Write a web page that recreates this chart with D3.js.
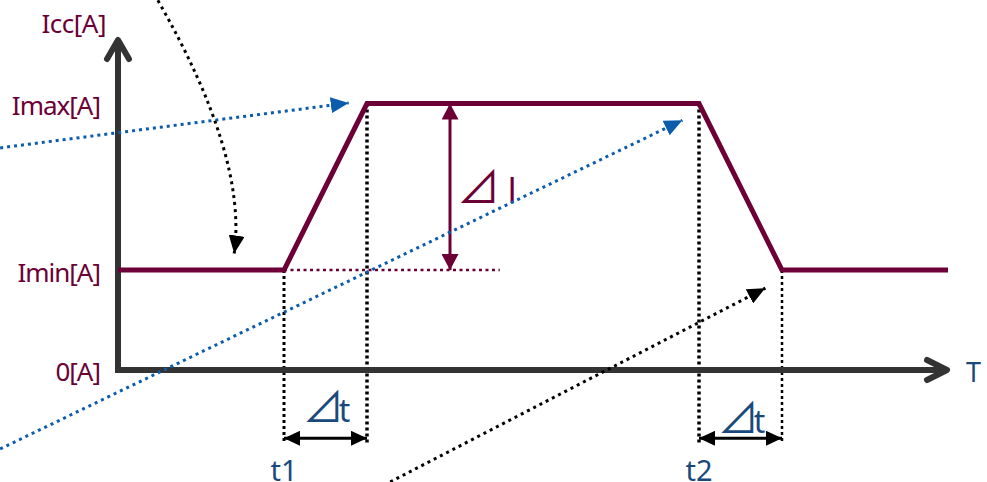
<!DOCTYPE html>
<html>
<head>
<meta charset="utf-8">
<script src="https://cdn.jsdelivr.net/npm/d3@7"></script>
<style>
  html, body { margin: 0; padding: 0; background: #fff; }
  svg { display: block; }
  .lbl { font-family: "Noto Sans", "Open Sans", sans-serif; }
  .delta { font-family: "Noto Sans CJK JP", "Noto Sans", sans-serif; }
  .plain { font-family: "Open Sans", "DejaVu Sans", sans-serif; }
</style>
</head>
<body>
<div id="chart"></div>
<script>
(function () {
  // ---- Data (time units on T, current units on Icc) ----
  const T_MAX = 100, I_MAX = 10;
  const profileT = [0, 20, 30, 70, 80, 100];
  const profileI = [3, 3, 8, 8, 3, 3];
  const yTickValues = [8, 3, 0];
  const yTickLabels = ['Imax[A]', 'Imin[A]', '0[A]'];
  const timeMarks = [20, 70];
  const timeLabels = ['t1', 't2'];
  const deltaT = 10;
  const deltaLabelLift = [11, 0];           // ⊿t labels: first sits higher
  const deltaISpan = [3, 8];                // ⊿I arrow between Imin and Imax
  const deltaIAt = 40;
  const iminGuideEnd = 46;

  // pointer arrows coming from outside the plot: [t0, i0, t1, i1]
  const bluePointers = [[-14.2, 6.67, 27.8, 8.02], [-14.2, -2.37, 68.0, 7.5]];
  const blackPointer = [32.8, -3.36, 78.0, 2.46];
  const blackCurve = [4.8, 11.1, 15.6, 6.4, 14.0, 3.5];  // start, control, end

  // ---- Colors ----
  const MAROON = '#6c0036', BLUE = '#0b5cad', NAVY = '#1a4a7c', AXIS = '#333';

  const W = 987, H = 482;
  const x = d3.scaleLinear().domain([0, T_MAX]).range([118, 948]);
  const y = d3.scaleLinear().domain([0, I_MAX]).range([370, 37]);

  const svg = d3.select('#chart').append('svg')
    .attr('width', W).attr('height', H);

  // ---- Arrow markers ----
  const defs = svg.append('defs');
  function marker(id, len, wid, color) {
    defs.append('marker')
      .attr('id', id)
      .attr('markerUnits', 'userSpaceOnUse')
      .attr('viewBox', `0 ${-wid / 2} ${len} ${wid}`)
      .attr('refX', len).attr('refY', 0)
      .attr('markerWidth', len).attr('markerHeight', wid)
      .attr('orient', 'auto-start-reverse')
      .append('path')
      .attr('d', `M0,${-wid / 2}L${len},0L0,${wid / 2}Z`)
      .attr('fill', color);
  }
  marker('head-blue', 18, 16, BLUE);
  marker('head-black', 18, 16, '#000');
  marker('dbl-black', 16, 15, '#000');
  marker('dbl-maroon', 16, 17, MAROON);

  // ---- Dotted guides ----
  const guides = svg.append('g').attr('fill', 'none');
  guides.append('line')
    .attr('x1', x(profileT[1])).attr('x2', x(iminGuideEnd))
    .attr('y1', y(profileI[1])).attr('y2', y(profileI[1]))
    .attr('stroke', MAROON).attr('stroke-width', 2.5)
    .attr('stroke-dasharray', '3 3.5');

  const vDrops = [[profileT[1], profileI[1], 3], [profileT[2], profileI[2], 3.5],
                  [profileT[3], profileI[3], 3.5], [profileT[4], profileI[4], 2.5]];
  vDrops.forEach(([t, i, w]) => {
    guides.append('line')
      .attr('x1', x(t)).attr('x2', x(t))
      .attr('y1', y(i)).attr('y2', y(-2.2))
      .attr('stroke', '#000').attr('stroke-width', w)
      .attr('stroke-dasharray', '3 3');
  });

  // ---- Axes ----
  const axes = svg.append('g');
  axes.append('path')
    .attr('d', `M${x(0)},${y(I_MAX) + 3}L${x(0)},${y(0)}L${x(T_MAX) - 2},${y(0)}`)
    .attr('fill', 'none').attr('stroke', AXIS).attr('stroke-width', 6)
    .attr('stroke-linejoin', 'miter');
  // chevron heads
  axes.append('path')
    .attr('d', `M${x(0) - 11},${y(I_MAX) + 22}L${x(0)},${y(I_MAX) + 3}L${x(0) + 11},${y(I_MAX) + 22}`)
    .attr('fill', 'none').attr('stroke', AXIS).attr('stroke-width', 6)
    .attr('stroke-linecap', 'round').attr('stroke-linejoin', 'round');
  axes.append('path')
    .attr('d', `M${x(T_MAX) - 21},${y(0) - 10}L${x(T_MAX) - 1},${y(0)}L${x(T_MAX) - 21},${y(0) + 10}`)
    .attr('fill', 'none').attr('stroke', AXIS).attr('stroke-width', 6)
    .attr('stroke-linecap', 'round').attr('stroke-linejoin', 'round');

  const yAxis = svg.append('g')
    .attr('class', 'lbl')
    .attr('transform', `translate(${x(0)},0)`)
    .call(d3.axisLeft(y).tickValues(yTickValues).tickSize(0).tickPadding(18)
      .tickFormat((d, k) => yTickLabels[k]));
  yAxis.select('.domain').remove();
  yAxis.selectAll('text')
    .attr('fill', MAROON).attr('font-size', 26).attr('letter-spacing', -1)
    .attr('dy', '0.42em');

  svg.append('text').attr('class', 'lbl')
    .attr('x', x(0) - 12).attr('y', y(I_MAX) - 4)
    .attr('text-anchor', 'end').attr('fill', MAROON).attr('font-size', 26)
    .attr('letter-spacing', -0.5)
    .text('Icc[A]');

  svg.append('text').attr('class', 'lbl')
    .attr('x', x(T_MAX) + 18).attr('y', y(0) + 12)
    .attr('fill', NAVY).attr('font-size', 27)
    .text('T');

  // ---- Current profile ----
  const line = d3.line().x(d => x(d[0])).y(d => y(d[1]));
  svg.append('path')
    .datum(d3.zip(profileT, profileI))
    .attr('d', line)
    .attr('fill', 'none').attr('stroke', MAROON).attr('stroke-width', 5)
    .attr('stroke-linejoin', 'miter');

  // ---- ⊿I ----
  svg.append('line')
    .attr('x1', x(deltaIAt)).attr('x2', x(deltaIAt))
    .attr('y1', y(deltaISpan[0])).attr('y2', y(deltaISpan[1]))
    .attr('stroke', MAROON).attr('stroke-width', 3)
    .attr('marker-start', 'url(#dbl-maroon)').attr('marker-end', 'url(#dbl-maroon)');
  const dI = svg.append('text').attr('class', 'delta')
    .attr('x', x(deltaIAt) + 7).attr('y', y(d3.mean(deltaISpan)) + 16)
    .attr('fill', MAROON);
  dI.append('tspan').attr('font-size', 43).text('⊿');
  dI.append('tspan').attr('class', 'plain').attr('dx', 7).attr('font-size', 37).text('I');

  // ---- ⊿t and t labels ----
  timeMarks.forEach((t, k) => {
    svg.append('line')
      .attr('x1', x(t)).attr('x2', x(t + deltaT))
      .attr('y1', y(-2.05)).attr('y2', y(-2.05))
      .attr('stroke', '#000').attr('stroke-width', 3)
      .attr('marker-start', 'url(#dbl-black)').attr('marker-end', 'url(#dbl-black)');
    const dt = svg.append('text').attr('class', 'delta')
      .attr('x', x(t + deltaT / 2) + 1).attr('y', y(-2.05) - 5 - deltaLabelLift[k])
      .attr('text-anchor', 'middle').attr('fill', NAVY);
    dt.append('tspan').attr('font-size', 41).text('⊿');
    dt.append('tspan').attr('class', 'lbl').attr('font-size', 32).attr('dx', -5).text('t');
    svg.append('text').attr('class', 'lbl')
      .attr('x', x(t)).attr('y', y(-3.32))
      .attr('text-anchor', 'middle').attr('fill', NAVY).attr('font-size', 29)
      .text(timeLabels[k]);
  });

  // ---- Pointer arrows ----
  bluePointers.forEach(p => {
    svg.append('line')
      .attr('x1', x(p[0])).attr('y1', y(p[1]))
      .attr('x2', x(p[2])).attr('y2', y(p[3]))
      .attr('stroke', BLUE).attr('stroke-width', 3)
      .attr('stroke-dasharray', '3 4')
      .attr('marker-end', 'url(#head-blue)');
  });
  svg.append('line')
    .attr('x1', x(blackPointer[0])).attr('y1', y(blackPointer[1]))
    .attr('x2', x(blackPointer[2])).attr('y2', y(blackPointer[3]))
    .attr('stroke', '#000').attr('stroke-width', 3)
    .attr('stroke-dasharray', '3 4')
    .attr('marker-end', 'url(#head-black)');

  const cp = d3.path();
  cp.moveTo(x(blackCurve[0]), y(blackCurve[1]));
  cp.quadraticCurveTo(x(blackCurve[2]), y(blackCurve[3]), x(blackCurve[4]), y(blackCurve[5]));
  svg.append('path')
    .attr('d', cp.toString())
    .attr('fill', 'none').attr('stroke', '#000').attr('stroke-width', 3)
    .attr('stroke-dasharray', '3 4')
    .attr('marker-end', 'url(#head-black)');
})();
</script>
</body>
</html>
